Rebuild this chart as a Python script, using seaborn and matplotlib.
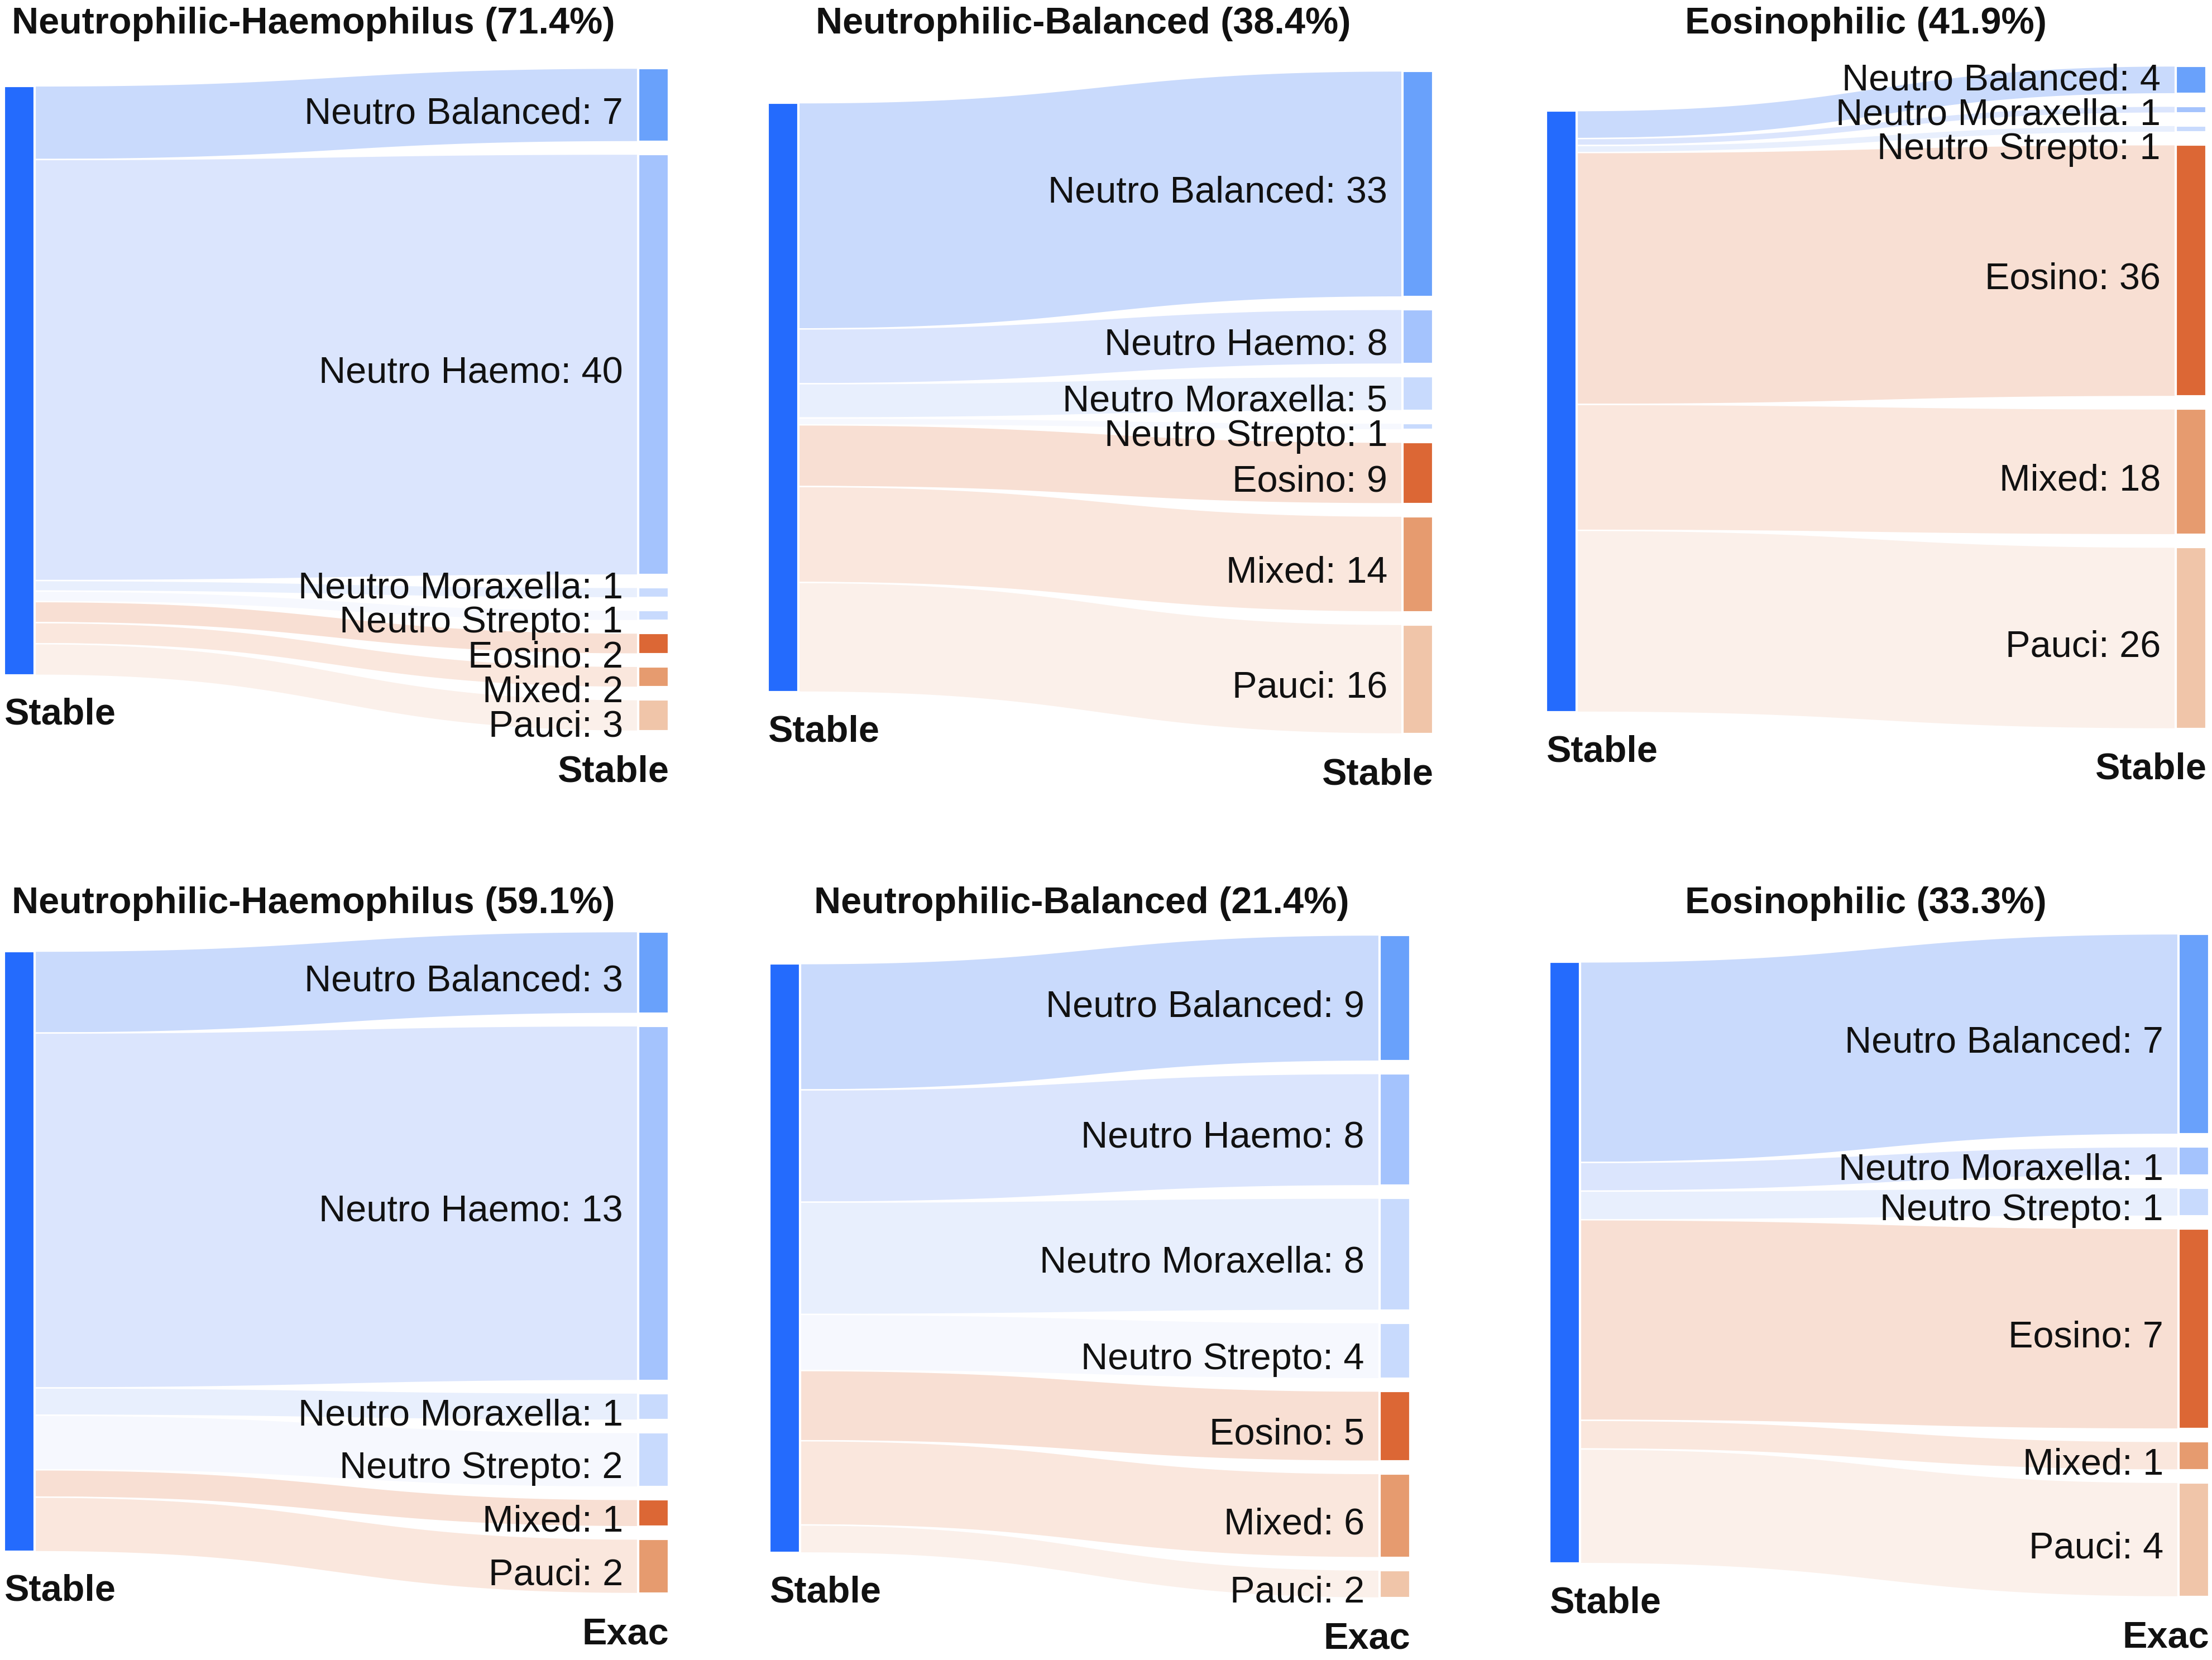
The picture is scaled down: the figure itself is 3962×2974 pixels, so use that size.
import numpy as np
import matplotlib.pyplot as plt
import seaborn as sns

# ---- data ----
titles = ["Neutrophilic-Haemophilus (71.4%)", "Neutrophilic-Balanced (38.4%)", "Eosinophilic (41.9%)",
          "Neutrophilic-Haemophilus (59.1%)", "Neutrophilic-Balanced (21.4%)", "Eosinophilic (33.3%)"]
source_labels = ["Stable", "Stable", "Stable", "Stable", "Stable", "Stable"]
target_labels = ["Stable", "Stable", "Stable", "Exac", "Exac", "Exac"]

haemo_stable_cats = ["Neutro Balanced", "Neutro Haemo", "Neutro Moraxella", "Neutro Strepto", "Eosino", "Mixed", "Pauci"]
haemo_stable_vals = [7, 40, 1, 1, 2, 2, 3]

balanced_stable_cats = ["Neutro Balanced", "Neutro Haemo", "Neutro Moraxella", "Neutro Strepto", "Eosino", "Mixed", "Pauci"]
balanced_stable_vals = [33, 8, 5, 1, 9, 14, 16]

eosino_stable_cats = ["Neutro Balanced", "Neutro Moraxella", "Neutro Strepto", "Eosino", "Mixed", "Pauci"]
eosino_stable_vals = [4, 1, 1, 36, 18, 26]

haemo_exac_cats = ["Neutro Balanced", "Neutro Haemo", "Neutro Moraxella", "Neutro Strepto", "Mixed", "Pauci"]
haemo_exac_vals = [3, 13, 1, 2, 1, 2]

balanced_exac_cats = ["Neutro Balanced", "Neutro Haemo", "Neutro Moraxella", "Neutro Strepto", "Eosino", "Mixed", "Pauci"]
balanced_exac_vals = [9, 8, 8, 4, 5, 6, 2]

eosino_exac_cats = ["Neutro Balanced", "Neutro Moraxella", "Neutro Strepto", "Eosino", "Mixed", "Pauci"]
eosino_exac_vals = [7, 1, 1, 7, 1, 4]

panels = [
    (haemo_stable_cats, haemo_stable_vals),
    (balanced_stable_cats, balanced_stable_vals),
    (eosino_stable_cats, eosino_stable_vals),
    (haemo_exac_cats, haemo_exac_vals),
    (balanced_exac_cats, balanced_exac_vals),
    (eosino_exac_cats, eosino_exac_vals),
]

# ---- colours ----
stable_color = "#246bfd"
blue_nodes = ["#69a1fb", "#a4c3fd", "#c8dafd", "#c8dafd"]
orange_nodes = ["#dc6735", "#e69b6f", "#f0c5a9"]
blue_links = ["#c9dafc", "#dbe5fd", "#e8effd", "#f6f8fe"]
orange_links = ["#f8dfd3", "#fae7dd", "#fbf0ea"]
text_color = "#111111"

# ---- layout (figure pixels) ----
W, H = 3962, 2974
panel_boxes = [(7, 122, 1198, 1310), (1375, 127, 2567, 1315), (2769, 118, 3952, 1306),
               (7, 1669, 1198, 2855), (1378, 1675, 2526, 2863), (2775, 1673, 3957, 2861)]
title_pos = [(561, 60), (1940, 60), (3342, 60), (561, 1636), (1937, 1636), (3342, 1636)]
node_w = 55
pad = 22
fs = 16
label_gap = 62   # minimum vertical spacing between node labels

sns.set_theme(style="white")
plt.rcParams["font.family"] = ["Liberation Sans", "DejaVu Sans"]

fig = plt.figure(figsize=(W / 300, H / 300), dpi=300)
fig.patch.set_facecolor("white")

t = np.linspace(0, 1, 120)


def bezier(a, b):
    return (1 - t) ** 3 * a + 3 * (1 - t) ** 2 * t * a + 3 * (1 - t) * t ** 2 * b + t ** 3 * b


def spread(nominal, d):
    # pool adjacent violators: keep labels at least d apart, as close to nominal as possible
    blocks = []
    for i, y in enumerate(nominal):
        blocks.append([y - i * d, 1, i])
        while len(blocks) > 1 and blocks[-1][0] / blocks[-1][1] < blocks[-2][0] / blocks[-2][1]:
            s, c, _ = blocks.pop()
            blocks[-1][0] += s
            blocks[-1][1] += c
    out = []
    for s, c, _ in blocks:
        out += [s / c] * c
    return np.array(out) + np.arange(len(nominal)) * d


for p, (cats, vals) in enumerate(panels):
    x0, y0, x1, y1 = panel_boxes[p]
    w, h = x1 - x0, y1 - y0
    ax = fig.add_axes([x0 / W, 1 - y1 / H, w / W, h / H])
    ax.set_xlim(0, w)
    ax.set_ylim(h, 0)
    ax.set_axis_off()

    vals = np.array(vals, dtype=float)
    n = len(vals)
    total = vals.sum()
    k = (h - (n - 1) * pad) / total
    heights = vals * k
    tops = np.concatenate([[0], np.cumsum(heights)[:-1]]) + np.arange(n) * pad
    centers = tops + heights / 2

    left_h = total * k
    left_top = (vals * centers).sum() / total - left_h / 2

    node_cols, link_cols = [], []
    bi, oi = 0, 0
    for c in cats:
        if c.startswith("Neutro"):
            node_cols.append(blue_nodes[bi]); link_cols.append(blue_links[bi]); bi += 1
        else:
            node_cols.append(orange_nodes[oi]); link_cols.append(orange_links[oi]); oi += 1

    # links
    xa, xb = node_w, w - node_w
    xm = (xa + xb) / 2
    bx = (1 - t) ** 3 * xa + 3 * (1 - t) ** 2 * t * xm + 3 * (1 - t) * t ** 2 * xm + t ** 3 * xb
    src = left_top + np.concatenate([[0], np.cumsum(heights)[:-1]])
    for i in range(n):
        top_c = bezier(src[i], tops[i])
        bot_c = bezier(src[i] + heights[i], tops[i] + heights[i])
        ax.fill(np.concatenate([bx, bx[::-1]]), np.concatenate([top_c, bot_c[::-1]]),
                color=link_cols[i], lw=0.6, edgecolor="white", zorder=1)

    # nodes
    ax.bar(node_w / 2, left_h, width=node_w, bottom=left_top, color=stable_color, zorder=2)
    ax.bar([w - node_w / 2] * n, heights, width=node_w, bottom=tops, color=node_cols, zorder=2)

    # labels
    label_y = spread(centers + 8, label_gap)
    for i in range(n):
        ax.text(w - node_w - 27, label_y[i] + 25, f"{cats[i]}: {int(vals[i])}", ha="right",
                va="baseline", fontsize=fs, color=text_color, zorder=3)
    ax.text(0, left_top + left_h + 88, source_labels[p], ha="left", va="baseline",
            fontsize=fs, fontweight="bold", color=text_color)
    ax.text(w, h + 90, target_labels[p], ha="right", va="baseline",
            fontsize=fs, fontweight="bold", color=text_color)

    tx, ty = title_pos[p]
    fig.text(tx / W, 1 - ty / H, titles[p], ha="center", va="baseline",
             fontsize=fs, fontweight="bold", color=text_color)

plt.savefig("out.png", dpi=300)
